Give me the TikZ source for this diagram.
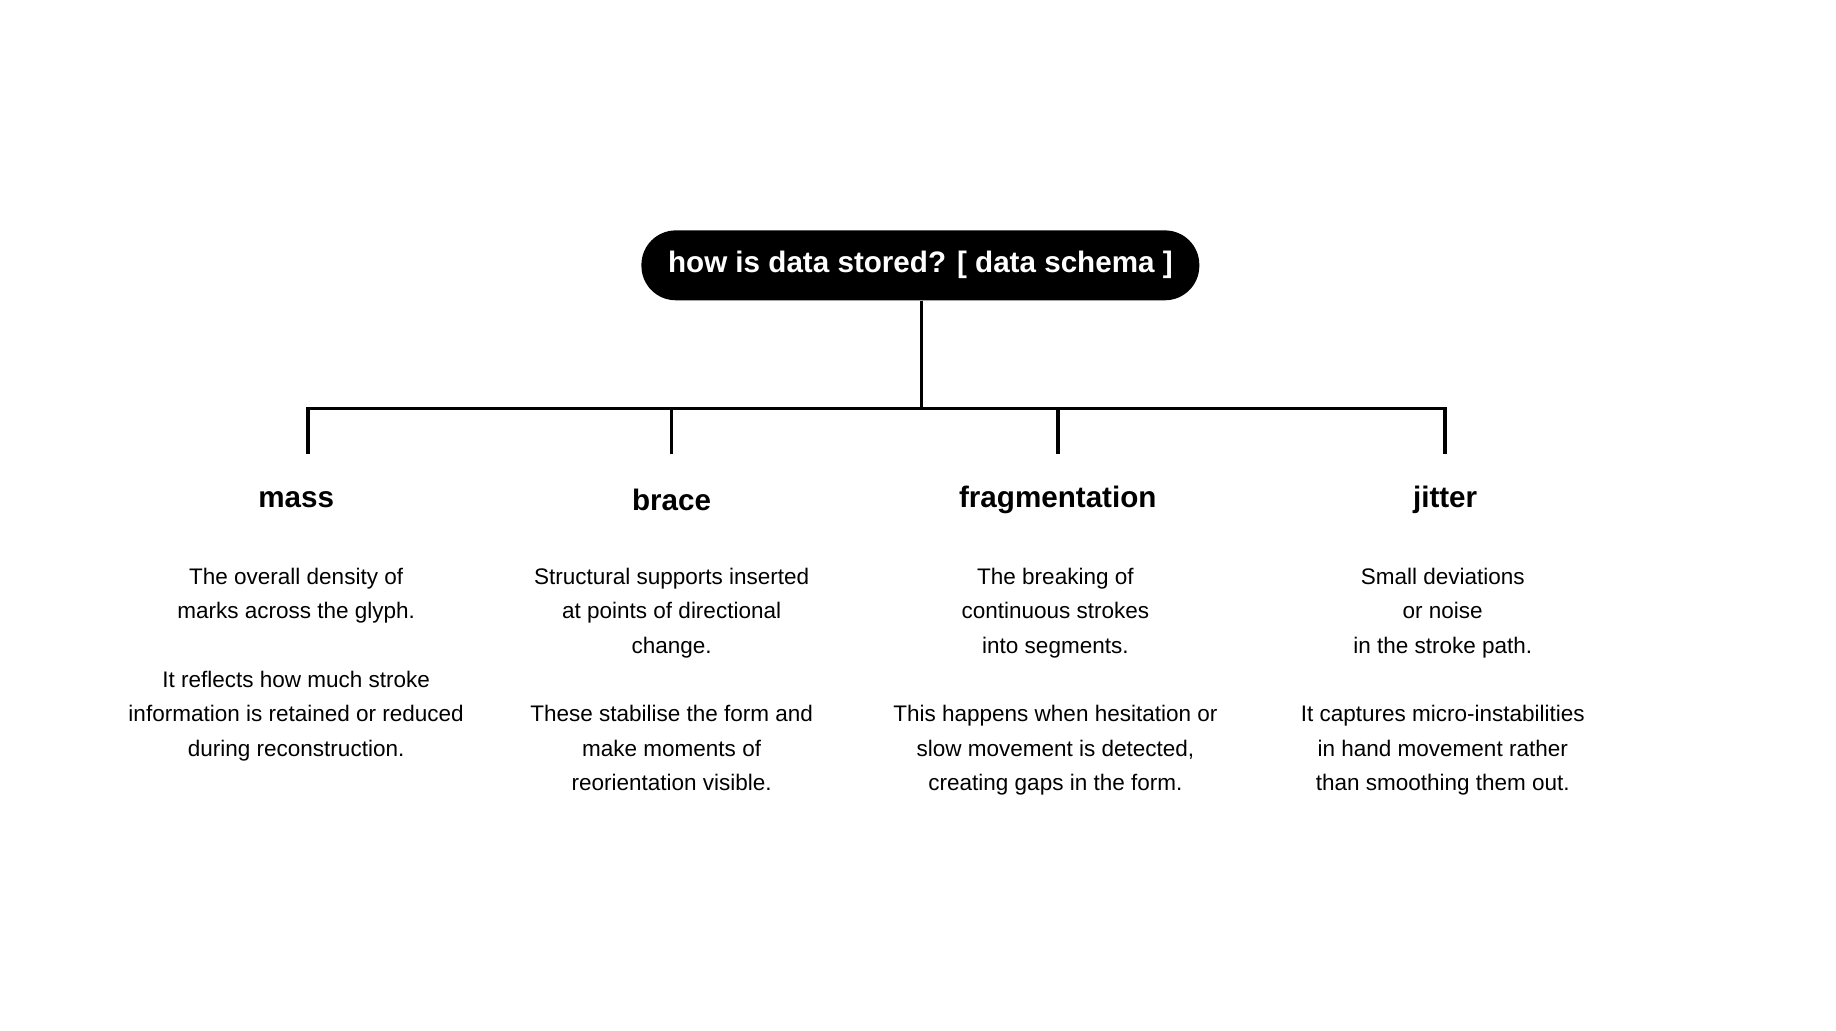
\documentclass[tikz,border=0pt]{standalone}
\usepackage{fontspec}
\setmainfont{Liberation Sans}
\begin{document}
\begin{tikzpicture}[x=1pt,y=-1pt,
  conn/.style={line width=3pt},
  title/.style={font=\fontsize{25}{30}\selectfont\bfseries},
  body/.style={align=center,font=\fontsize{19}{29}\selectfont},
  pill/.style={fill=black,text=white,rounded corners=29pt,minimum width=471pt,minimum height=59pt,font=\fontsize{25}{30}\selectfont\bfseries}]
\useasboundingbox (0,0) rectangle (1550,870);
\node[pill] (root) at (777,224) {how is data stored? [ data schema ]};
\coordinate (j) at (778,345);
\coordinate (h1) at (260,345); \coordinate (h4) at (1220,345);
\coordinate (t1) at (260,383); \coordinate (t2) at (567,383);
\coordinate (t3) at (893,383); \coordinate (t4) at (1220,383);
\coordinate (b2) at (567,345); \coordinate (b3) at (893,345);
\draw[conn] (root.south -| j) -- (j);
\draw[conn,line cap=butt] ([xshift=-1.5pt]h1) -- ([xshift=1.5pt]h4);
\draw[conn] (h1) -- (t1);
\draw[conn] (b2) -- (t2);
\draw[conn] (b3) -- (t3);
\draw[conn] (h4) -- (t4);
\node[title] (n1) at (250,422) {mass};
\node[title] (n2) at (567,422) {brace};
\node[title] (n3) at (893,422) {fragmentation};
\node[title] (n4) at (1220,422) {jitter};
\node[body,anchor=north] (d1) at (250,476) {The overall density of\\marks across the glyph.\\[29pt]It reflects how much stroke\\information is retained or reduced\\during reconstruction.};
\node[body,anchor=north] (d2) at (567,476) {Structural supports inserted\\at points of directional\\change.\\[29pt]These stabilise the form and\\make moments of\\reorientation visible.};
\node[body,anchor=north] (d3) at (891,476) {The breaking of\\continuous strokes\\into segments.\\[29pt]This happens when hesitation or\\slow movement is detected,\\creating gaps in the form.};
\node[body,anchor=north] (d4) at (1218,476) {Small deviations\\or noise\\in the stroke path.\\[29pt]It captures micro-instabilities\\in hand movement rather\\than smoothing them out.};
\end{tikzpicture}
\end{document}
